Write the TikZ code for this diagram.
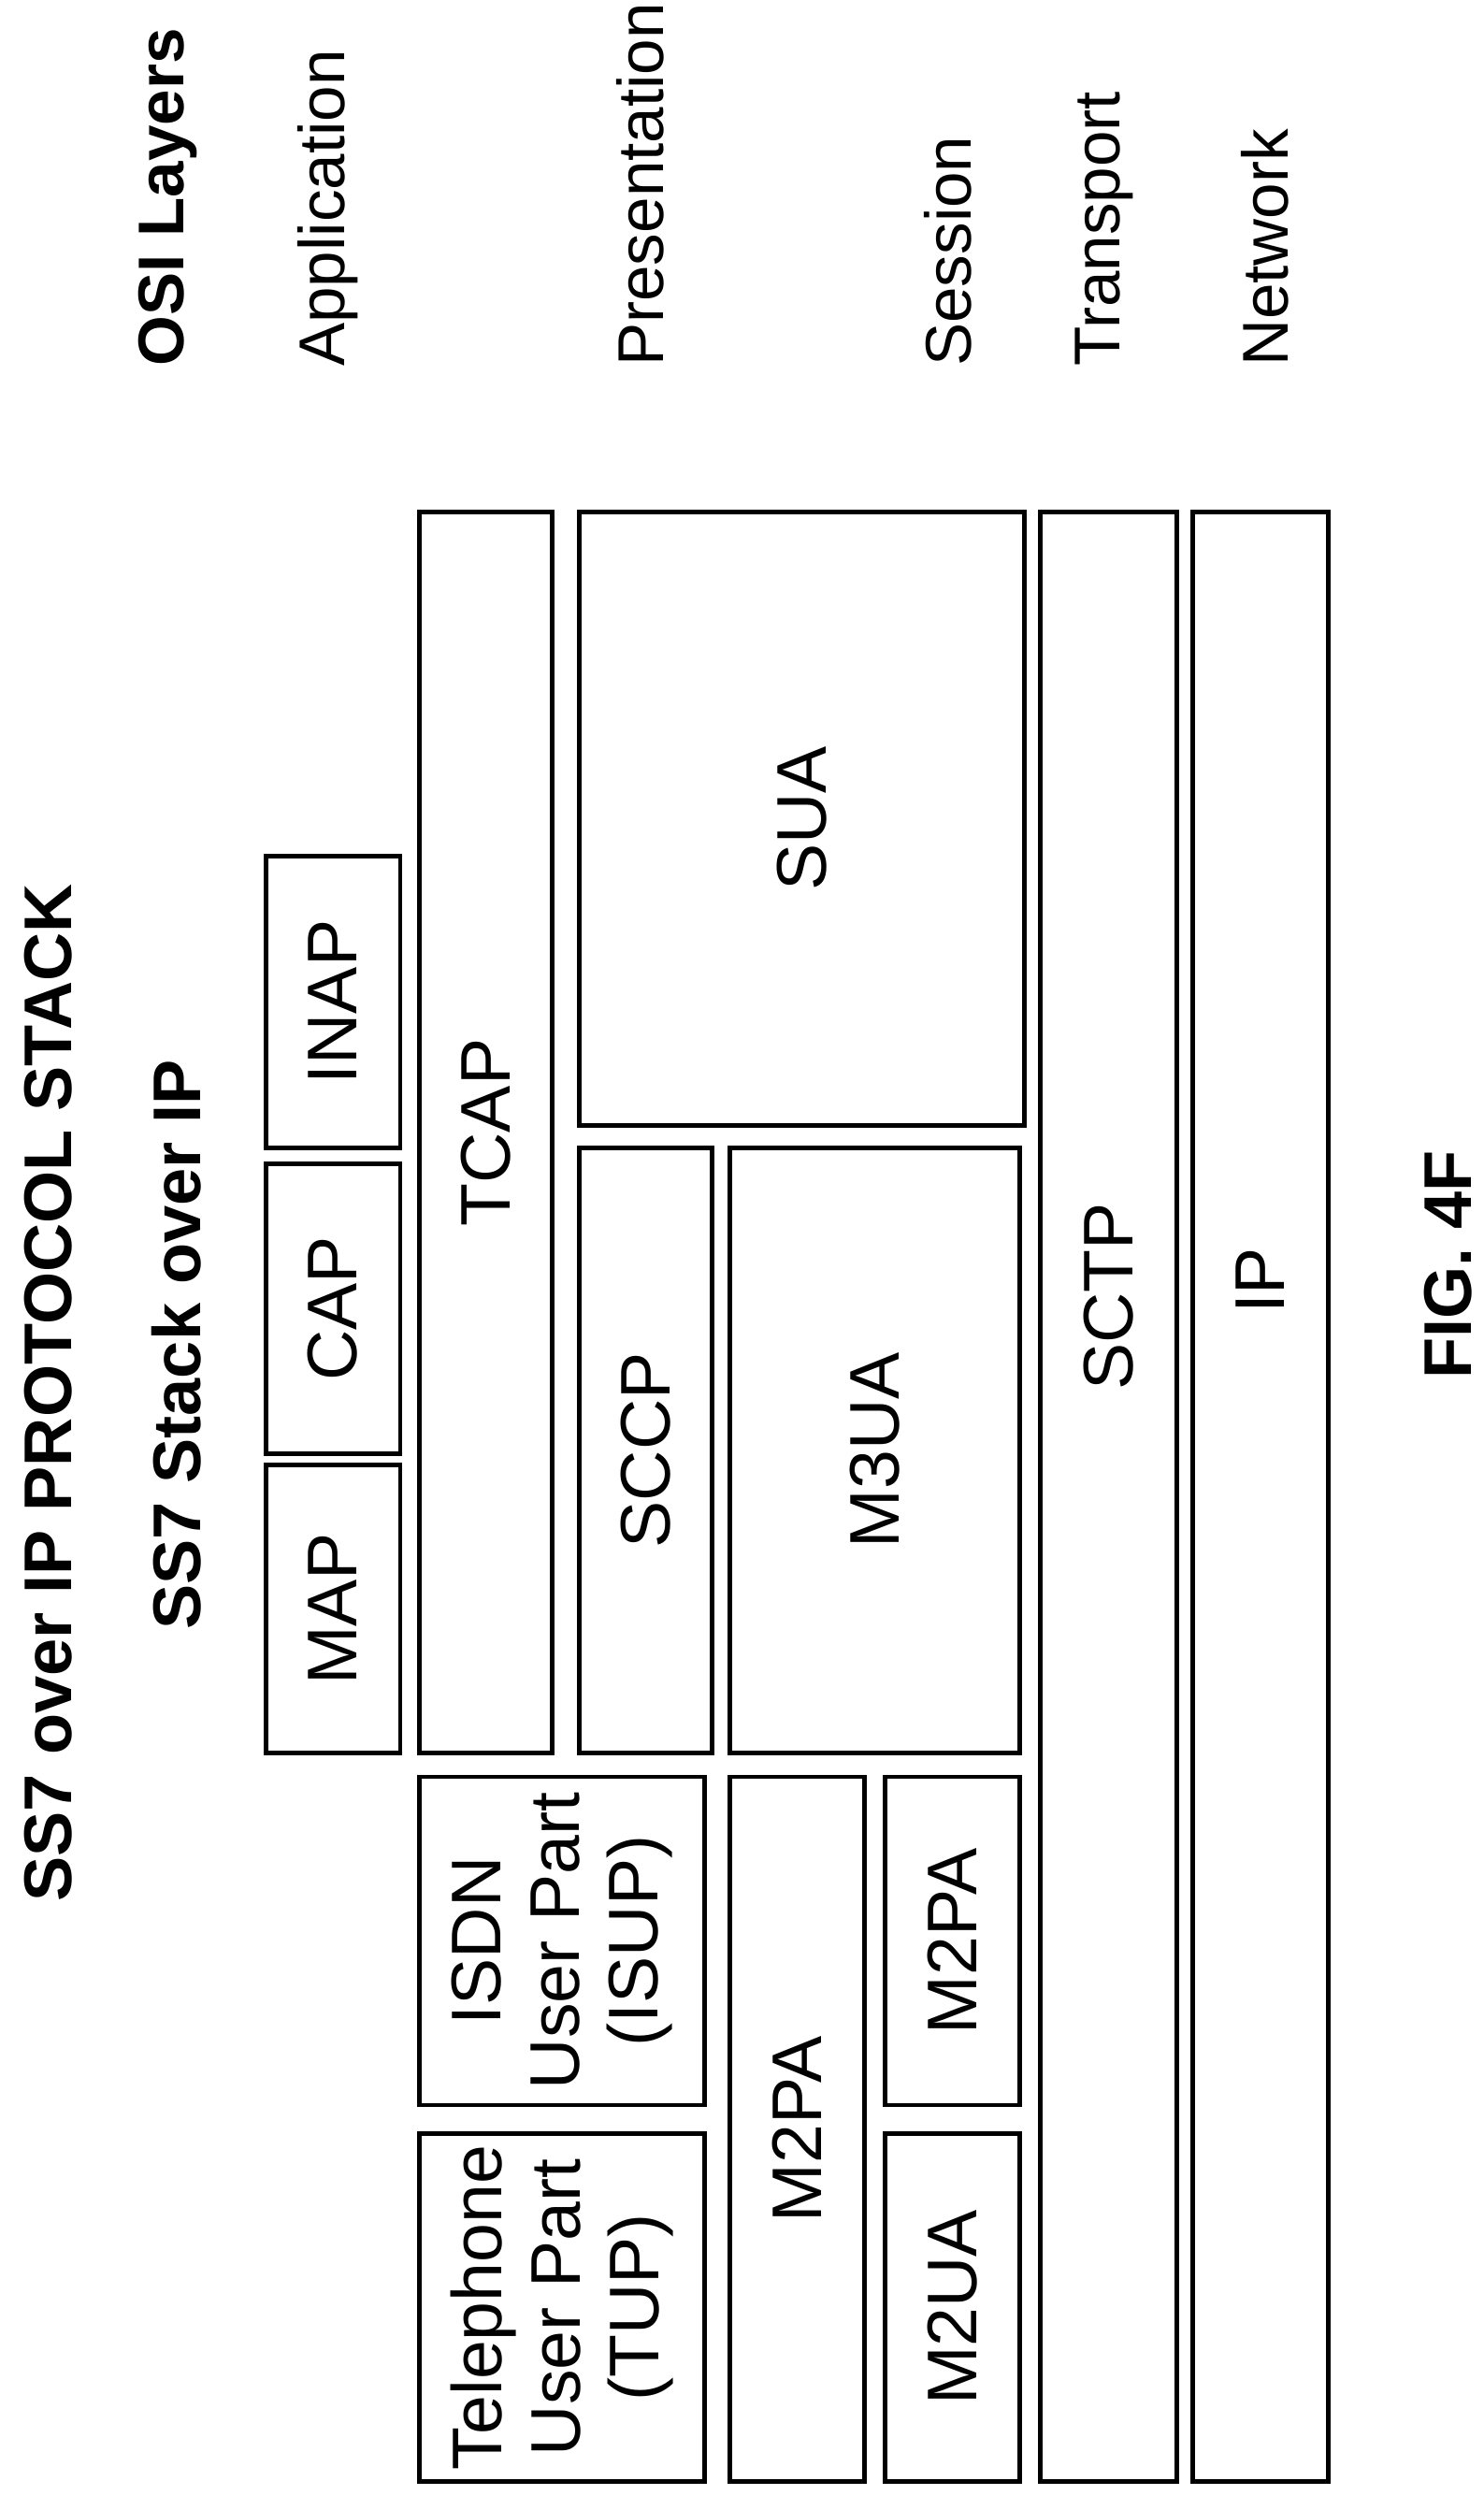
\documentclass[tikz,border=0pt]{standalone}
\usepackage{fontspec}
\setmainfont{Liberation Sans}
\usetikzlibrary{fit}

\begin{document}
\begin{tikzpicture}[
		x=0.02cm,y=-0.02cm,
		layer/.style={draw,line width=1.6pt,inner sep=0pt},
		lbl/.style={rotate=90,font=\fontsize{25}{28}\selectfont,align=center},
		osi/.style={rotate=90,anchor=west,font=\fontsize{23}{26}\selectfont},
		head/.style={rotate=90,font=\bfseries\fontsize{24}{28}\selectfont}
		]
		\useasboundingbox (0,0) rectangle (927,1568);
		% boxes, corners in picture pixels
		\foreach \nm/\xa/\ya/\xb/\yb/\txt in {
			tup/262/1333/440/1550/{Telephone\\User Part\\(TUP)},
			isup/262/1110/440/1315/{ISDN\\User Part\\(ISUP)},
			m2pa/456/1110/540/1550/M2PA,
			m2pb/553/1110/637/1315/M2PA,
			m2ua/553/1333/637/1550/M2UA,
			map/166/915/250/1095/MAP,
			cap/166/727/250/908/CAP,
			inap/166/535/250/717/INAP,
			tcap/262/320/345/1095/TCAP,
			sccp/362/717/445/1095/SCCP,
			m3ua/456/717/637/1095/M3UA,
			sua/362/320/640/703/SUA}
		{
			\node[layer,fit={(\xa,\ya) (\xb,\yb)}] (\nm) {};
			\node[lbl] at (\nm.center) {\txt};
		}
		\node[layer,fit={(650,320) (735,1550)}] (sctp) {};
		\node[lbl] at (sctp.center |- 0,810) {SCTP};
		\node[layer,fit={(745,320) (830,1550)}] (ip) {};
		\node[lbl] at (ip.center |- 0,800) {IP};
		
		\node[head] (title) at (30,870) {SS7 over IP PROTOCOL STACK};
		\node[head] (stack) at (110,840) {SS7 Stack over IP};
		
		\node[osi,font=\bfseries\fontsize{23}{26}\selectfont] (osi) at (105,235) {OSI Layers};
		\node[osi] (app) at (205,235) {Application};
		\node[osi] (pres) at (400,235) {Presentation};
		\node[osi] (sess) at (592,235) {Session};
		\node[osi] (trans) at (690,235) {Transport};
		\node[osi] (net) at (790,235) {Network};
		
		\node[head] (fig) at (905,790) {FIG. 4F};
	\end{tikzpicture}
\end{document}
